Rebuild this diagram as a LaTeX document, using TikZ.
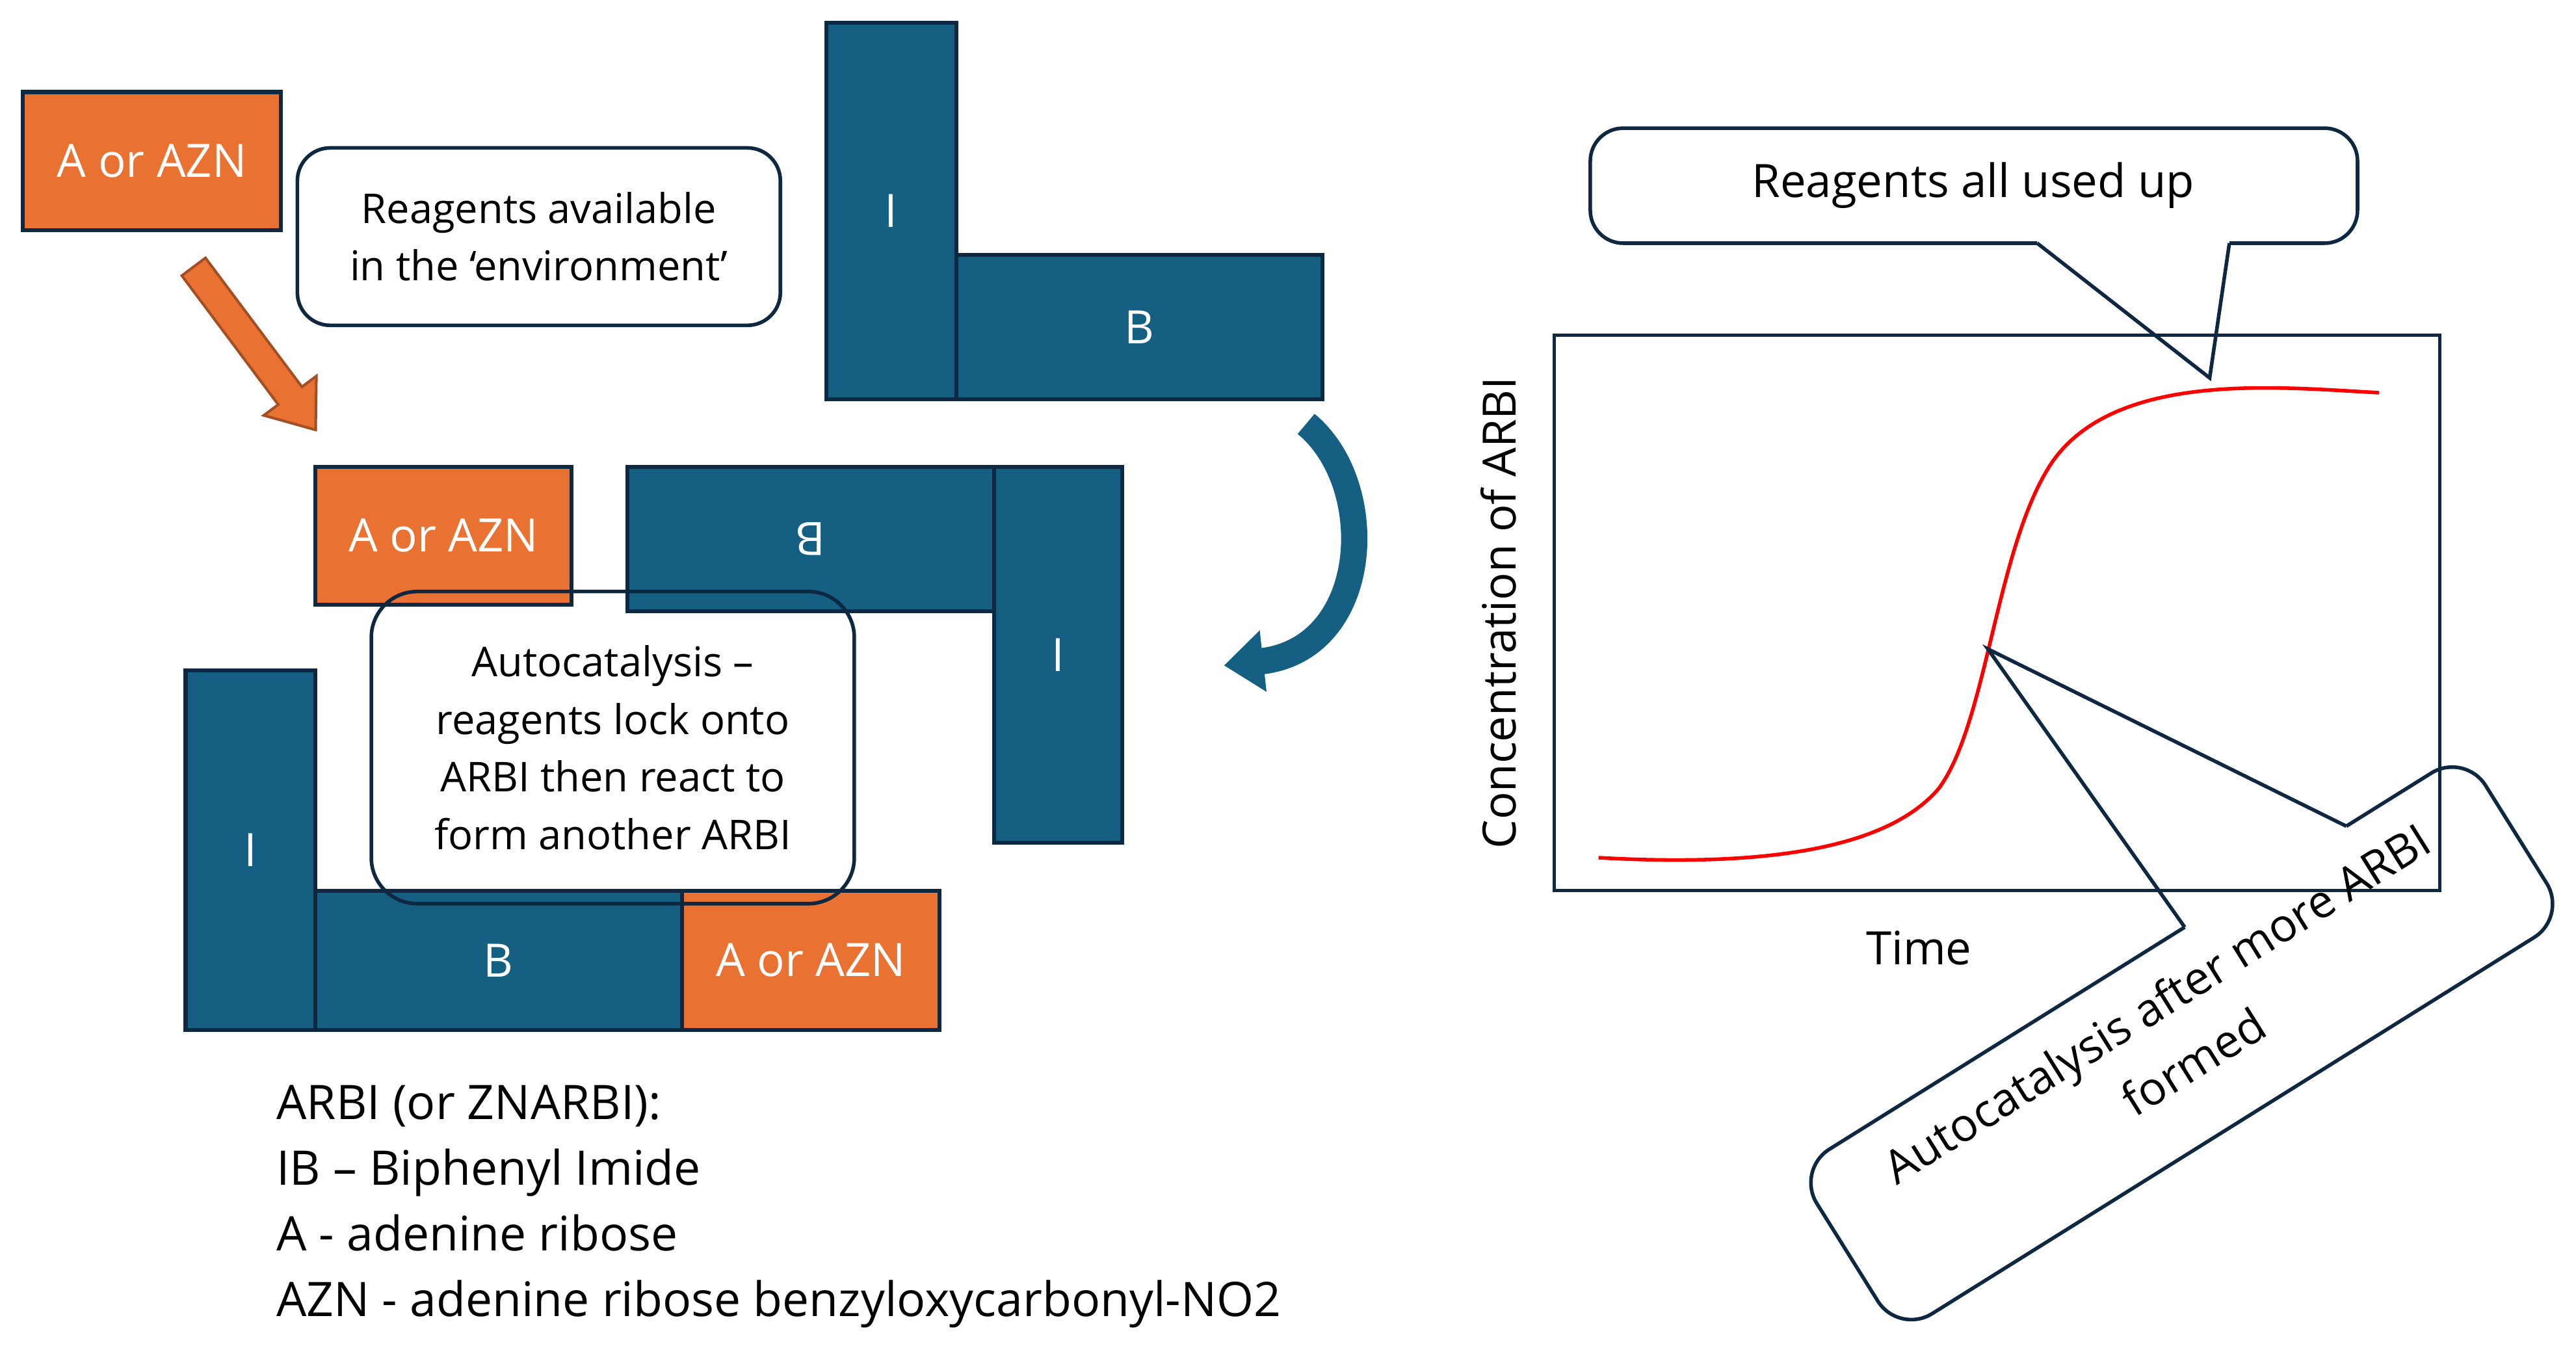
\documentclass[tikz,border=0pt]{standalone}
\usepackage{fontspec}
\setmainfont{Open Sans}
\usetikzlibrary{arrows.meta}
\definecolor{accorange}{RGB}{233,113,50}
\definecolor{accblue}{RGB}{21,96,130}
\definecolor{edgeblue}{RGB}{14,40,65}
\tikzset{
  block/.style={draw=edgeblue,line width=1.2pt,inner sep=0pt,text=white,font=\fontsize{14}{16}\selectfont},
  orangebox/.style={block,fill=accorange},
  bluebox/.style={block,fill=accblue},
  note/.style={draw=edgeblue,line width=1.1pt,rounded corners=10pt,align=center,font=\fontsize{12.5}{17.5}\selectfont},
}
\begin{document}
\begin{tikzpicture}[x=0.5pt,y=-0.5pt]
\useasboundingbox (0,0) rectangle (1568,827);

%top left reagent
\node[orangebox,minimum width=78.5pt,minimum height=42pt] (aleft) at (92.5,98) {A or AZN};
\begin{scope}[shift={(155,212)},rotate=-53.2]
\draw[fill=accorange,draw=accorange!70!black,line width=0.8pt] (-62,-9) -- (36,-9) -- (36,-20) -- (62,0) -- (36,20) -- (36,9) -- (-62,9) -- cycle;
\end{scope}
\node[note,minimum width=147pt,minimum height=54pt] (env) at (328,144) {Reagents available\\in the ‘environment’};

%top right reagent
\node[bluebox,minimum width=39.5pt,minimum height=114.5pt] (itop) at (542.5,128.5) {I};
\node[bluebox,minimum width=111.5pt,minimum height=44pt] (btop) at (693.5,199) {B};
\draw[accblue,line width=8pt,-{Triangle[length=12pt,width=18pt]}] (795,258) .. controls (840,295) and (835,395) .. (745,405);

%middle
\node[orangebox,minimum width=78pt,minimum height=42pt] (amid) at (270,326) {A or AZN};
\node[bluebox,minimum width=111.5pt,minimum height=44pt] (bmid) at (493.5,328) {\rotatebox{180}{B}};
\node[bluebox,minimum width=39pt,minimum height=114.5pt] (imid) at (644,398.5) {I};

%bottom
\node[bluebox,minimum width=39.5pt,minimum height=109.5pt] (ibot) at (152.5,517.5) {I};
\node[bluebox,minimum width=111.5pt,minimum height=42.5pt] (bbot) at (303.5,584.5) {B};
\node[orangebox,minimum width=78.5pt,minimum height=42.5pt] (abot) at (493.5,584.5) {A or AZN};
\node[note,minimum width=147pt,minimum height=95pt,rounded corners=14pt] (auto) at (373,455) {Autocatalysis –\\reagents lock onto\\ARBI then react to\\form another ARBI};

%legend
\node[anchor=north west,align=left,font=\fontsize{14.5}{20}\selectfont,inner sep=0pt] (legend) at (168,660) {ARBI (or ZNARBI):\\IB – Biphenyl Imide\\A - adenine ribose\\AZN - adenine ribose benzyloxycarbonyl-NO2};

%graph
\draw[edgeblue,line width=1.1pt] (946,204) rectangle (1485,542);
\node[rotate=90,font=\fontsize{14}{16}\selectfont] (ylab) at (912,373) {Concentration of ARBI};
\node[font=\fontsize{14}{16}\selectfont] (xlab) at (1168,577) {Time};
\draw[red,line width=1.1pt] (973,522) .. controls (1080,528) and (1150,515) .. (1180,480) .. controls (1210,440) and (1215,330) .. (1250,280) .. controls (1290,225) and (1390,236) .. (1448,239);
\coordinate (knee) at (1210,395);

%top callout
\draw[edgeblue,line width=1.1pt,rounded corners=10pt] (1240,148) -- (968,148) -- (968,78) -- (1435,78) -- (1435,148) -- (1357,148);
\node[font=\fontsize{14}{16}\selectfont] (used) at (1201,113) {Reagents all used up};
\coordinate (tailtop) at (1345,230);
\draw[edgeblue,line width=1.1pt] (1240,148) -- (tailtop) -- (1357,148);

%bottom callout
\begin{scope}[shift={(1328,635)},rotate=32]
\draw[edgeblue,line width=1.1pt,rounded corners=12pt] (155,-59) -- (240,-59) -- (240,59) -- (-240,59) -- (-240,-59) -- (39,-59);
\coordinate (gapl) at (39,-59);
\coordinate (gapr) at (155,-59);
\node[align=center,font=\fontsize{14}{21}\selectfont,rotate=32] (later) at (0,-8) {Autocatalysis after more ARBI\\formed};
\end{scope}
\draw[edgeblue,line width=1.1pt] (gapl) -- (knee) -- (gapr);
\end{tikzpicture}
\end{document}
